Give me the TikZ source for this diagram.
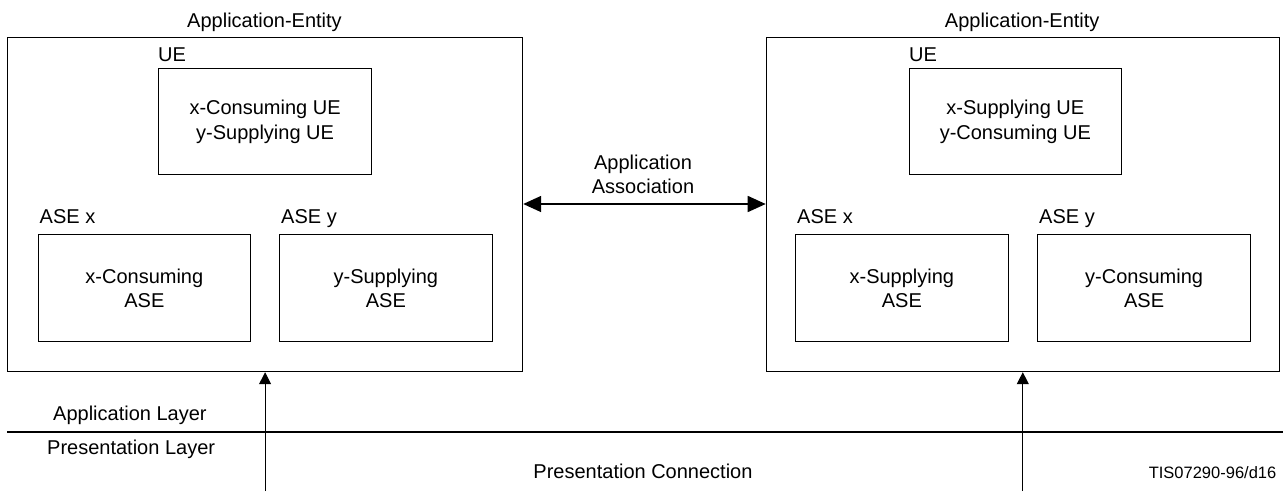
\documentclass[tikz,border=0pt]{standalone}
\usepackage{fontspec}
\setmainfont{Liberation Sans}
\usetikzlibrary{arrows.meta}
\tikzset{
  box/.style={draw=black, line width=1.2pt, rectangle, inner sep=0pt, anchor=north west,
              align=center, font=\fontsize{20}{24.5}\selectfont},
  txt/.style={inner sep=0pt, font=\fontsize{20}{24}\selectfont},
  assoc/.style={line width=1.6pt, {Triangle[length=18pt,width=16pt]}-{Triangle[length=18pt,width=16pt]}},
  pres/.style={line width=1pt, -{Triangle[length=12pt,width=12pt]}},
  layerline/.style={line width=1.8pt}
}
\begin{document}
\begin{tikzpicture}[x=1pt,y=-1pt]
\useasboundingbox (0,0) rectangle (1283,491);
% left application entity
\node[box, minimum width=515pt, minimum height=334pt] (AE1) at (7,37) {};
\node[txt, anchor=base] (AE1t) at (264.5,27.5) {Application-Entity};
\node[box, minimum width=213pt, minimum height=106pt] (UE1) at (158,68) {x-Consuming UE\\y-Supplying UE};
\node[txt, anchor=base west] (UE1t) at (158,61) {UE};
\node[box, minimum width=212.5pt, minimum height=107pt] (AX1) at (37.5,234) {x-Consuming\\ASE};
\node[txt, anchor=base west] (AX1t) at (39.5,223) {ASE x};
\node[box, minimum width=212.5pt, minimum height=107pt] (AY1) at (279,234) {y-Supplying\\ASE};
\node[txt, anchor=base west] (AY1t) at (281,223) {ASE y};
% right application entity
\node[box, minimum width=513pt, minimum height=334pt] (AE2) at (765.7,37) {};
\node[txt, anchor=base] (AE2t) at (1022.2,27.5) {Application-Entity};
\node[box, minimum width=212.5pt, minimum height=106pt] (UE2) at (908.5,68) {x-Supplying UE\\y-Consuming UE};
\node[txt, anchor=base west] (UE2t) at (909,61) {UE};
\node[box, minimum width=212.5pt, minimum height=107pt] (AX2) at (795,234) {x-Supplying\\ASE};
\node[txt, anchor=base west] (AX2t) at (797,223) {ASE x};
\node[box, minimum width=213pt, minimum height=107pt] (AY2) at (1037,234) {y-Consuming\\ASE};
\node[txt, anchor=base west] (AY2t) at (1039,223) {ASE y};
% application association
\coordinate (aa) at (643,204);
\node[txt, align=center, anchor=south] (AAt) at (643,194) {Application\\Association};
\draw[assoc] (AE1.east |- aa) -- (AE2.west |- aa);
% layers
\coordinate (L1) at (7,431.7);
\coordinate (L2) at (1283,431.7);
\draw[layerline] (L1) -- (L2);
\node[txt, anchor=base west] (ALt) at (53,420.7) {Application Layer};
\node[txt, anchor=base west] (PLt) at (47,454.3) {Presentation Layer};
% presentation connection
\coordinate (P1) at (AE1.south |- 0,491);
\coordinate (P2) at (AE2.south |- 0,491);
\draw[pres] (P1) -- (AE1.south);
\draw[pres] (P2) -- (AE2.south);
\node[txt, anchor=base] (PCt) at (643,478) {Presentation Connection};
\node[txt, anchor=base east, font=\fontsize{16.5}{19}\selectfont] (TISt) at (1276.5,478) {TIS07290-96/d16};
\end{tikzpicture}
\end{document}
